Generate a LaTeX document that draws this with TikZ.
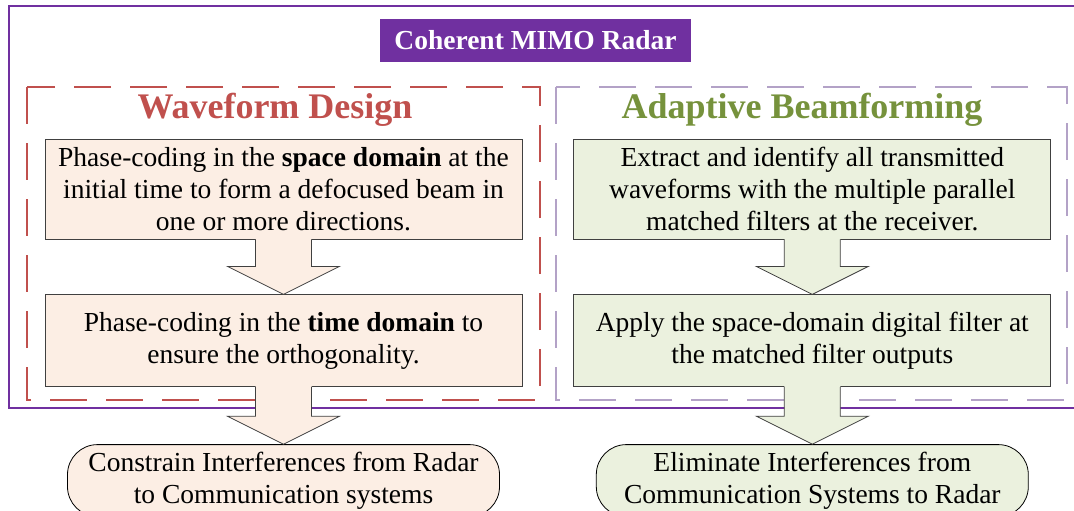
\documentclass[tikz,border=0pt]{standalone}
\usepackage{fontspec}
\setmainfont{Liberation Serif}
\usepackage{tikz}
\usetikzlibrary{positioning}
\definecolor{radarpurple}{RGB}{112,48,160}
\definecolor{wavered}{RGB}{192,80,77}
\definecolor{beamgreen}{RGB}{118,146,60}
\definecolor{lavender}{RGB}{179,162,199}
\definecolor{peachfill}{RGB}{252,238,228}
\definecolor{sagefill}{RGB}{235,241,222}

% block arrow from the bottom of #1 to the top of #2
\newcommand{\flowarrow}[3]{%
  \fill[#3] ([xshift=-28pt,yshift=2pt]#1.south) -- ([xshift=-28pt,yshift=28pt]#2.north)
    -- ([xshift=-56pt,yshift=28pt]#2.north) -- (#2.north)
    -- ([xshift=56pt,yshift=28pt]#2.north) -- ([xshift=28pt,yshift=28pt]#2.north)
    -- ([xshift=28pt,yshift=2pt]#1.south) -- cycle;
  \draw[arrline] ([xshift=-28pt]#1.south) -- ([xshift=-28pt,yshift=28pt]#2.north)
    -- ([xshift=-56pt,yshift=28pt]#2.north) -- (#2.north)
    -- ([xshift=56pt,yshift=28pt]#2.north) -- ([xshift=28pt,yshift=28pt]#2.north)
    -- ([xshift=28pt]#1.south);}

\begin{document}
\begin{tikzpicture}[
  x=1pt, y=-1pt,
  box/.style={draw=black!75, line width=0.8pt, minimum width=477pt, align=center,
              font=\fontsize{27.5}{32}\selectfont, inner sep=3pt},
  endbox/.style={box, draw=black, rounded corners=30pt, minimum width=432pt, minimum height=72pt},
  heading/.style={font=\fontsize{36}{40}\selectfont\bfseries},
  arrline/.style={draw=black!75, line width=0.8pt, line join=miter},
]
  \useasboundingbox (0,0) rectangle (1074,511);
  \clip (0,0) rectangle (1074,511);

  % left column
  \node[box, fill=peachfill, minimum height=100pt] (wd1) at (283.5,189)
    {Phase-coding in the \textbf{space domain} at the\\initial time to form a defocused beam in\\one or more directions.};
  \node[box, fill=peachfill, minimum height=92pt, below=55pt of wd1] (wd2)
    {Phase-coding in the \textbf{time domain} to\\ensure the orthogonality.};
  \node[endbox, fill=peachfill, below=57pt of wd2] (wdout)
    {Constrain Interferences from Radar\\to Communication systems};

  % right column
  \node[box, fill=sagefill, minimum height=100pt, right=51pt of wd1] (bf1)
    {Extract and identify all transmitted\\waveforms with the multiple parallel\\matched filters at the receiver.};
  \node[box, fill=sagefill, minimum height=92pt, below=55pt of bf1] (bf2)
    {Apply the space-domain digital filter at\\the matched filter outputs};
  \node[endbox, fill=sagefill, below=57pt of bf2] (bfout)
    {Eliminate Interferences from\\Communication Systems to Radar};

  % headings and title
  \node[heading, text=wavered] (wdhead) at (275,110) {Waveform Design};
  \node[heading, text=beamgreen] (bfhead) at (802,110) {Adaptive Beamforming};
  \node[fill=radarpurple, text=white, font=\fontsize{27.5}{30}\selectfont\bfseries,
        minimum width=311pt, minimum height=43pt] (title) at (535.5,40.5) {Coherent MIMO Radar};

  % frames
  \draw[radarpurple, line width=2.4pt] (9,6) rectangle (1082,408);
  \draw[wavered, line width=2.2pt, dash pattern=on 37pt off 19pt] (27,87) rectangle (540,400);
  \draw[lavender, line width=2pt, dash pattern=on 37pt off 19pt] (556,87) rectangle (1067,400);

  % block arrows
  \flowarrow{wd1}{wd2}{peachfill}
  \flowarrow{wd2}{wdout}{peachfill}
  \flowarrow{bf1}{bf2}{sagefill}
  \flowarrow{bf2}{bfout}{sagefill}
\end{tikzpicture}
\end{document}
